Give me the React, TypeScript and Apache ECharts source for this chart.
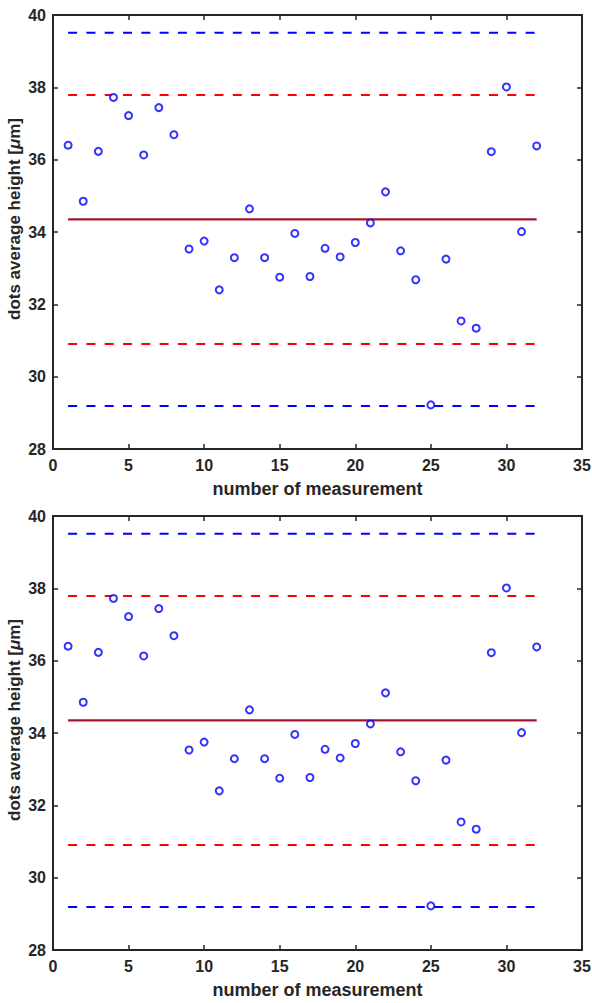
import React, { useEffect, useRef } from "react";
import * as echarts from "echarts";

const heights = [
  36.4, 34.85, 36.23, 37.72, 37.22, 36.13, 37.44, 36.69, 33.53, 33.75, 32.4, 33.29,
  34.64, 33.29, 32.75, 33.96, 32.77, 33.55, 33.31, 33.71, 34.25, 35.11, 33.48, 32.68,
  29.22, 33.25, 31.54, 31.34, 36.22, 38.01, 34.01, 36.38,
];
const meanValue = 34.35;
const innerLimits = [37.79, 30.9];
const outerLimits = [39.51, 29.19];
const xTicks = { min: 0, max: 35, interval: 5 };
const yTicks = { min: 28, max: 40, interval: 2 };

const INK = "#262626";
const FONT = "Liberation Sans, Arial, sans-serif";

export default function App() {
  const ref = useRef<HTMLDivElement>(null);
  useEffect(() => {
    if (!ref.current) return;
    const chart = echarts.init(ref.current, undefined, { renderer: "svg" });
    const grids = [
      { left: 53, top: 15, width: 529, height: 434, outerBoundsMode: "none", containLabel: false },
      { left: 53, top: 516, width: 529, height: 434, outerBoundsMode: "none", containLabel: false },
    ];
    const points = heights.map((h, i) => [i + 1, h]);
    const xFirst = 1;
    const xLast = heights.length;
    const xAxes: any[] = [];
    const yAxes: any[] = [];
    const series: any[] = [];
    const axisLine = { show: true, onZero: false, lineStyle: { color: INK, width: 2 } };
    const tick = { show: true, inside: true, length: 5, lineStyle: { color: INK, width: 1.5 } };
    const labelStyle = { color: INK, fontSize: 16, fontWeight: "bold", fontFamily: FONT };
    grids.forEach((g, gi) => {
      const bx = xAxes.length;
      xAxes.push({
        type: "value", gridIndex: gi, position: "bottom", ...xTicks,
        axisLine, axisTick: tick, splitLine: { show: false },
        axisLabel: { ...labelStyle, margin: 8 },
        name: "number of measurement", nameLocation: "middle", nameGap: 31, nameMoveOverlap: false,
        nameTextStyle: { color: INK, fontSize: 18, fontWeight: "bold", fontFamily: FONT },
      });
      xAxes.push({
        type: "value", gridIndex: gi, position: "top", ...xTicks,
        axisLine, axisTick: tick, splitLine: { show: false }, axisLabel: { show: false },
      });
      const by = yAxes.length;
      yAxes.push({
        type: "value", gridIndex: gi, position: "left", ...yTicks,
        axisLine, axisTick: tick, splitLine: { show: false },
        axisLabel: { ...labelStyle, margin: 7 },
        name: "dots average height [{it|μ}m]", nameLocation: "middle", nameGap: 29, nameMoveOverlap: false,
        nameTextStyle: {
          color: INK, fontSize: 17, lineHeight: 20, fontWeight: "bold", fontFamily: FONT,
          padding: [0, 0, 0, 26],
          rich: { it: { fontStyle: "italic", fontWeight: "bold", fontSize: 17, lineHeight: 20, fontFamily: FONT, color: INK } },
        },
      });
      yAxes.push({
        type: "value", gridIndex: gi, position: "right", ...yTicks,
        axisLine, axisTick: tick, splitLine: { show: false }, axisLabel: { show: false },
      });
      const refLine = (v: number, color: string, dashed: boolean, w: number) => ({
        type: "line", xAxisIndex: bx, yAxisIndex: by, symbol: "none", silent: true,
        data: [[xFirst, v], [xLast, v]], z: 2,
        lineStyle: { color, width: w, type: dashed ? [9, 9.3] : "solid" },
      });
      outerLimits.forEach((v) => series.push(refLine(v, "#0000FF", true, 2)));
      innerLimits.forEach((v) => series.push(refLine(v, "#FF0000", true, 2)));
      series.push(refLine(meanValue, "#A2142F", false, 2.3));
      series.push({
        type: "scatter", xAxisIndex: bx, yAxisIndex: by, data: points, z: 5,
        symbol: "emptyCircle", symbolSize: 7,
        itemStyle: { color: "#0000FF", borderColor: "#0000FF", borderWidth: 2.4 },
      });
    });
    chart.setOption({
      animation: false,
      backgroundColor: "#fff",
      grid: grids,
      xAxis: xAxes,
      yAxis: yAxes,
      series,
    });
    return () => chart.dispose();
  }, []);
  return <div ref={ref} style={{ position: "fixed", left: 0, top: 0, width: 592, height: 1003 }} />;
}
